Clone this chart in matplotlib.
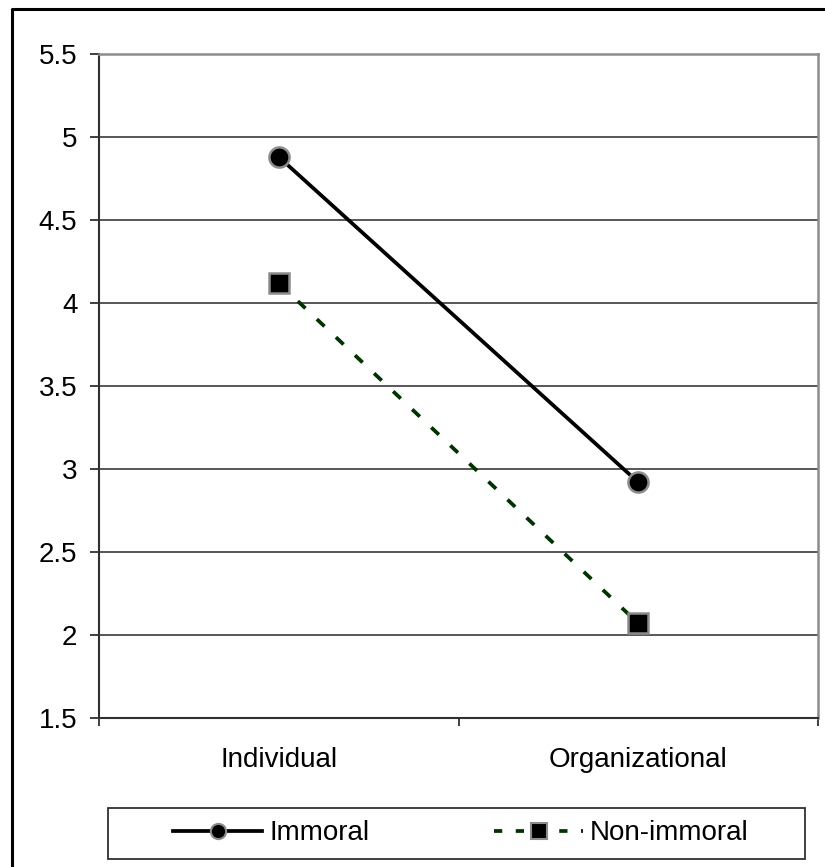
#### Grafico de linhas: Immoral vs Non-immoral ####

import matplotlib.pyplot as plt
import numpy as np
from matplotlib.lines import Line2D
from matplotlib.patches import Rectangle

plt.rcParams['font.family'] = ['Liberation Sans', 'DejaVu Sans']

# Dados
categorias = ['Individual', 'Organizational']
immoral = [4.88, 2.92]
non_immoral = [4.12, 2.07]
y_ticks = [1.5, 2, 2.5, 3, 3.5, 4, 4.5, 5, 5.5]

fig = plt.figure(figsize=(8.25, 8.67), dpi=100)
ax = fig.add_axes([99 / 825, 1 - 718 / 867, 719 / 825, 664 / 867])

x = np.arange(len(categorias))

# series
ax.plot(x, immoral, color='black', linewidth=2.7, marker='o', markersize=14.5,
        markerfacecolor='black', markeredgecolor='#8c8c8c', markeredgewidth=1.8,
        zorder=3)
ax.plot(x, non_immoral, color='#003300', linewidth=2.7, dashes=(2.8, 4.2),
        marker='s', markersize=14, markerfacecolor='black',
        markeredgecolor='#8c8c8c', markeredgewidth=1.8, zorder=3)

# eixos
ax.set_xlim(-0.5, 1.5)
ax.set_ylim(1.5, 5.5)
ax.set_yticks(y_ticks)
ax.set_yticklabels(['%g' % v for v in y_ticks])
ax.yaxis.grid(True, color='#4a4a4a', linewidth=1.3)
ax.set_axisbelow(True)

ax.set_xticks([-0.5, 0.5, 1.5])
ax.set_xticklabels([])
ax.set_xticks(x, minor=True)
ax.set_xticklabels(categorias, minor=True)
ax.tick_params(axis='x', which='major', length=6, width=1.3, color='#303030')
ax.tick_params(axis='x', which='minor', length=0, pad=21, labelsize=20)
ax.tick_params(axis='y', length=6.5, width=1.3, color='#303030', pad=9,
               labelsize=20)

for lado in ['left', 'bottom']:
    ax.spines[lado].set_color('#303030')
    ax.spines[lado].set_linewidth(1.5)
for lado in ['top', 'right']:
    ax.spines[lado].set_color('#8c8c8c')
    ax.spines[lado].set_linewidth(1.8)

# legenda
h1 = Line2D([], [], color='black', linewidth=2.7, marker='o', markersize=11,
            markerfacecolor='black', markeredgecolor='#8c8c8c',
            markeredgewidth=1.5)
h2 = Line2D([], [], color='#003300', linewidth=2.7, dashes=(2.2, 3.6),
            marker='s', markersize=11, markerfacecolor='black',
            markeredgecolor='#8c8c8c', markeredgewidth=1.5)
fig.legend([h1, h2], ['Immoral', 'Non-immoral'], loc='center',
           bbox_to_anchor=(461 / 825, 1 - 833.5 / 867), ncol=2,
           frameon=False, fontsize=20, handlelength=3.2, handletextpad=0.25,
           columnspacing=4.5, borderpad=0)
fig.add_artist(Rectangle((108 / 825, 1 - 859 / 867), 697 / 825, 51 / 867,
                         transform=fig.transFigure, fill=False,
                         edgecolor='#303030', linewidth=1.3))

# borda da figura (so esquerda e topo aparecem)
fig.add_artist(Line2D([12 / 825, 12 / 825, 1.01], [-0.01, 1 - 8.5 / 867, 1 - 8.5 / 867],
                      transform=fig.transFigure, color='black', linewidth=2.2))

fig.savefig('out.png', dpi=100)
